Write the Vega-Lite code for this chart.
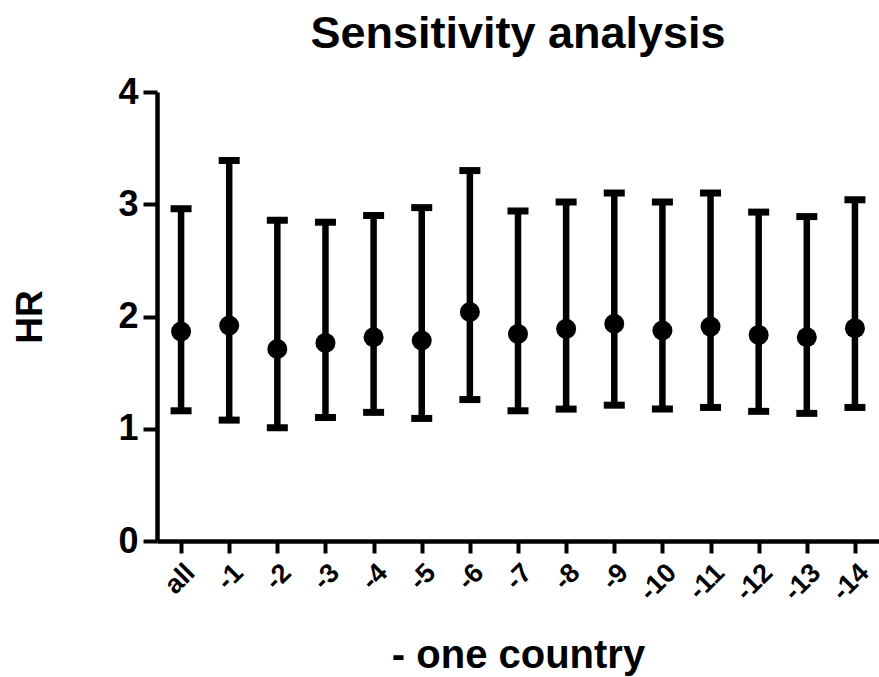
{
  "$schema": "https://vega.github.io/schema/vega-lite/v6.json",
  "width": 722,
  "height": 449,
  "autosize": {"type": "none"},
  "padding": {"left": 157, "top": 92, "right": 0, "bottom": 136},
  "title": {"text": "Sensitivity analysis", "fontSize": 45, "font": "Liberation Sans", "fontWeight": "bold", "color": "black", "anchor": "middle", "offset": 17},
  "config": {
    "view": {"stroke": null},
    "axis": {"domainColor": "black", "domainWidth": 4.5, "tickColor": "black", "tickWidth": 4, "labelColor": "black", "titleColor": "black", "labelFont": "Liberation Sans", "titleFont": "Liberation Sans", "labelFontWeight": "bold", "titleFontWeight": "bold", "grid": false}
  },
  "data": {"values": [
    {"group": "all", "hr": 1.866, "lo": 1.16, "hi": 2.96},
    {"group": "-1", "hr": 1.92, "lo": 1.077, "hi": 3.39},
    {"group": "-2", "hr": 1.71, "lo": 1.01, "hi": 2.857},
    {"group": "-3", "hr": 1.765, "lo": 1.10, "hi": 2.84},
    {"group": "-4", "hr": 1.815, "lo": 1.146, "hi": 2.90},
    {"group": "-5", "hr": 1.786, "lo": 1.092, "hi": 2.97},
    {"group": "-6", "hr": 2.04, "lo": 1.26, "hi": 3.30},
    {"group": "-7", "hr": 1.845, "lo": 1.16, "hi": 2.94},
    {"group": "-8", "hr": 1.89, "lo": 1.175, "hi": 3.02},
    {"group": "-9", "hr": 1.935, "lo": 1.21, "hi": 3.10},
    {"group": "-10", "hr": 1.875, "lo": 1.175, "hi": 3.02},
    {"group": "-11", "hr": 1.91, "lo": 1.19, "hi": 3.10},
    {"group": "-12", "hr": 1.836, "lo": 1.155, "hi": 2.93},
    {"group": "-13", "hr": 1.815, "lo": 1.137, "hi": 2.89},
    {"group": "-14", "hr": 1.896, "lo": 1.19, "hi": 3.04}
  ]},
  "encoding": {
    "x": {"field": "group", "type": "nominal", "sort": null, "scale": {"type": "point", "padding": 0.5},
      "axis": {"title": "- one country", "labelAngle": -45, "labelFontSize": 27, "tickSize": 12, "labelPadding": 6, "titleFontSize": 40, "titlePadding": 31}}
  },
  "layer": [
    {"mark": {"type": "rule", "strokeWidth": 6.5, "color": "black"},
      "encoding": {
        "y": {"field": "lo", "type": "quantitative", "title": "HR", "scale": {"domain": [0, 4]},
          "axis": {"values": [0, 1, 2, 3, 4], "format": "d", "tickSize": 14, "labelFontSize": 36, "labelPadding": 5, "titleFontSize": 37, "titlePadding": 68}},
        "y2": {"field": "hi"}
      }},
    {"mark": {"type": "tick", "orient": "horizontal", "size": 21, "thickness": 7, "color": "black", "opacity": 1},
      "encoding": {"y": {"field": "lo", "type": "quantitative", "title": "HR"}}},
    {"mark": {"type": "tick", "orient": "horizontal", "size": 21, "thickness": 7, "color": "black", "opacity": 1},
      "encoding": {"y": {"field": "hi", "type": "quantitative", "title": "HR"}}},
    {"mark": {"type": "circle", "size": 400, "opacity": 1, "color": "black"},
      "encoding": {"y": {"field": "hr", "type": "quantitative", "title": "HR"}}}
  ]
}
